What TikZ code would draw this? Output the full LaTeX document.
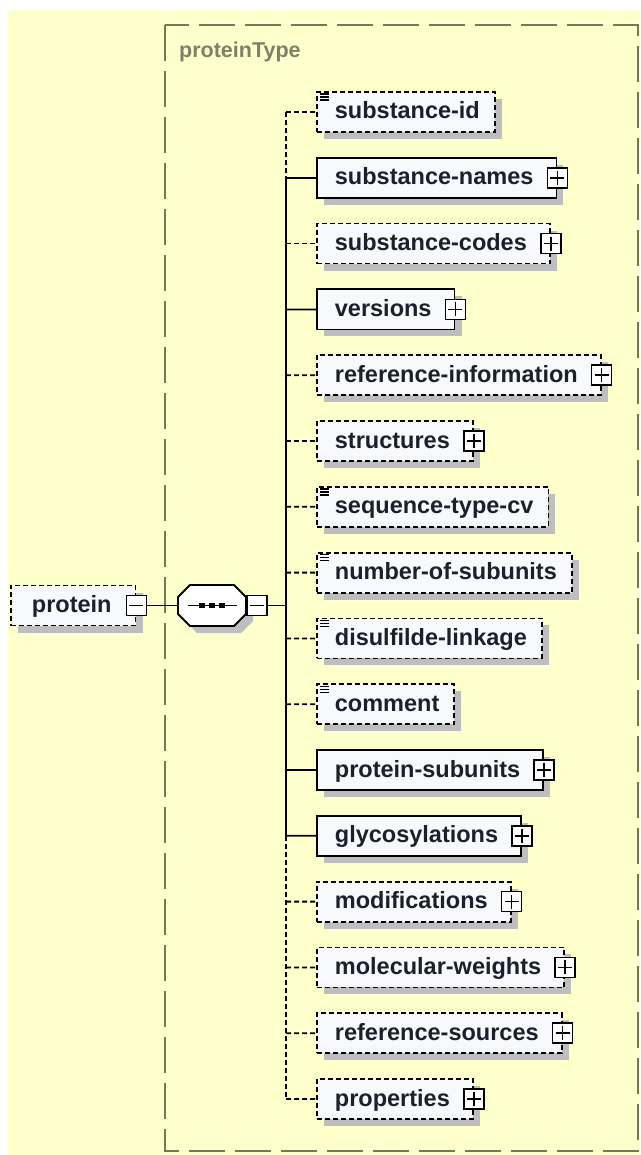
\documentclass[tikz,border=0pt]{standalone}
\usepackage{fontspec}
\setmainfont{Liberation Sans}
\usetikzlibrary{shadows,calc}
\definecolor{bgyellow}{RGB}{255,255,204}
\definecolor{boxfill}{RGB}{248,249,253}
\definecolor{shadowgray}{RGB}{190,190,190}
\definecolor{frameolive}{RGB}{118,118,88}
\definecolor{textdark}{RGB}{30,30,44}
\definecolor{typegray}{RGB}{128,128,104}
\tikzset{
  elem/.style={draw, minimum height=40pt, inner xsep=0pt, inner ysep=0pt,
    fill=boxfill, text=textdark, line width=1.8pt,
    font=\fontsize{23.5pt}{27pt}\selectfont\bfseries,
    text height=18pt, text depth=4pt,
    drop shadow={shadow xshift=7pt, shadow yshift=-7pt, opacity=1, fill=shadowgray}},
  reqelem/.style={elem},
  optelem/.style={elem, dash pattern=on 5pt off 3pt},
  conn/.style={line width=1.8pt},
  optconn/.style={line width=1.8pt, dash pattern=on 5pt off 3pt},
  plusbox/.style={draw, fill=white, minimum size=20pt, inner sep=0pt, line width=1.6pt,
    path picture={
      \draw[line width=1.6pt] ([xshift=-7pt]path picture bounding box.center) -- ([xshift=7pt]path picture bounding box.center);
      \draw[line width=1.6pt] ([yshift=-7pt]path picture bounding box.center) -- ([yshift=7pt]path picture bounding box.center);}},
  minusbox/.style={draw, fill=white, minimum size=20pt, inner sep=0pt, line width=1.6pt,
    path picture={
      \draw[line width=1.6pt] ([xshift=-7pt]path picture bounding box.center) -- ([xshift=7pt]path picture bounding box.center);}},
  seqanchor/.style={minimum width=68pt, minimum height=41pt, inner sep=0pt},
  typelabel/.style={text=typegray, font=\fontsize{21.5pt}{25pt}\selectfont\bfseries, inner sep=0pt},
  simpleicon/.pic={
    \draw[line width=1.2pt] (4,3) -- (13,3) (4,6) -- (13,6) (4,9) -- (13,9);}
}
\begin{document}
\begin{tikzpicture}[x=1pt,y=-1pt]
\useasboundingbox (0,0) rectangle (640,1155);
\fill[bgyellow] (8,10) rectangle (640,1155);
\draw[frameolive, line width=1.6pt, dash pattern=on 36pt off 10pt] (165,25) rectangle (638,1151);
\node[typelabel, anchor=base west] (ptype) at (179,58) {proteinType};

% bus coordinates
\foreach \i in {0,...,15} { \coordinate (b\i) at (286,112+65.8*\i); }
\coordinate (bmid) at (286,605.5);

% vertical bus
\draw[optconn] (b0) -- (b1);
\draw[conn] (b1) -- (b11);
\draw[optconn] (b11) -- (b15);

% children
\node[optelem, anchor=west] (n0) at (316,112) {\hspace*{18pt}substance-id\hspace*{15pt}};
\node[reqelem, anchor=west] (n1) at (316,177.8) {\hspace*{18pt}substance-names\hspace*{23pt}};
\node[optelem, anchor=west] (n2) at (316,243.6) {\hspace*{18pt}substance-codes\hspace*{23pt}};
\node[reqelem, anchor=west] (n3) at (316,309.4) {\hspace*{18pt}versions\hspace*{23pt}};
\node[optelem, anchor=west] (n4) at (316,375.2) {\hspace*{18pt}reference-information\hspace*{23pt}};
\node[optelem, anchor=west] (n5) at (316,441) {\hspace*{18pt}structures\hspace*{23pt}};
\node[optelem, anchor=west] (n6) at (316,506.8) {\hspace*{18pt}sequence-type-cv\hspace*{15pt}};
\node[optelem, anchor=west] (n7) at (316,572.6) {\hspace*{18pt}number-of-subunits\hspace*{15pt}};
\node[optelem, anchor=west] (n8) at (316,638.4) {\hspace*{18pt}disulfilde-linkage\hspace*{15pt}};
\node[optelem, anchor=west] (n9) at (316,704.2) {\hspace*{18pt}comment\hspace*{15pt}};
\node[reqelem, anchor=west] (n10) at (316,770) {\hspace*{18pt}protein-subunits\hspace*{23pt}};
\node[reqelem, anchor=west] (n11) at (316,835.8) {\hspace*{18pt}glycosylations\hspace*{23pt}};
\node[optelem, anchor=west] (n12) at (316,901.6) {\hspace*{18pt}modifications\hspace*{23pt}};
\node[optelem, anchor=west] (n13) at (316,967.4) {\hspace*{18pt}molecular-weights\hspace*{23pt}};
\node[optelem, anchor=west] (n14) at (316,1033.2) {\hspace*{18pt}reference-sources\hspace*{23pt}};
\node[optelem, anchor=west] (n15) at (316,1099) {\hspace*{18pt}properties\hspace*{23pt}};

% connectors from bus
\foreach \i in {0,2,4,5,6,7,8,9,12,13,14,15} { \draw[optconn] (b\i) -- (n\i.west); }
\foreach \i in {1,3,10,11} { \draw[conn] (b\i) -- (n\i.west); }

% expand boxes
\foreach \i in {1,2,3,4,5,10,11,12,13,14,15} { \node[plusbox] (p\i) at (n\i.east) {}; }

% simple type icons
\foreach \i in {0,6,7,8,9} { \pic at (n\i.north west) {simpleicon}; }

% root element
\node[optelem, anchor=west] (prot) at (10,605.5) {\hspace*{21pt}protein\hspace*{24pt}};
\node[minusbox] (m1) at (prot.east) {};

% sequence compositor (octagon)
\node[seqanchor] (seq) at (212,605.5) {};
\fill[shadowgray, shift={(7,7)}] (178,597) -- (190,585) -- (234,585) -- (246,597) -- (246,614) -- (234,626) -- (190,626) -- (178,614) -- cycle;
\draw[line width=1.8pt, fill=white] (178,597) -- (190,585) -- (234,585) -- (246,597) -- (246,614) -- (234,626) -- (190,626) -- (178,614) -- cycle;
\draw[line width=1.5pt] ($(seq.center)+(-24,0)$) -- ($(seq.center)+(25,0)$);
\foreach \dx in {-10,0,10} { \fill ($(seq.center)+(\dx-2.8,-2.8)$) rectangle +(5.6,5.6); }
\node[minusbox] (m2) at (257,605.5) {};
\draw[conn] (m1.east) -- (seq.west);
\draw[conn] (seq.east) -- (m2.west);
\draw[conn] (m2.east) -- (bmid);
\end{tikzpicture}
\end{document}
